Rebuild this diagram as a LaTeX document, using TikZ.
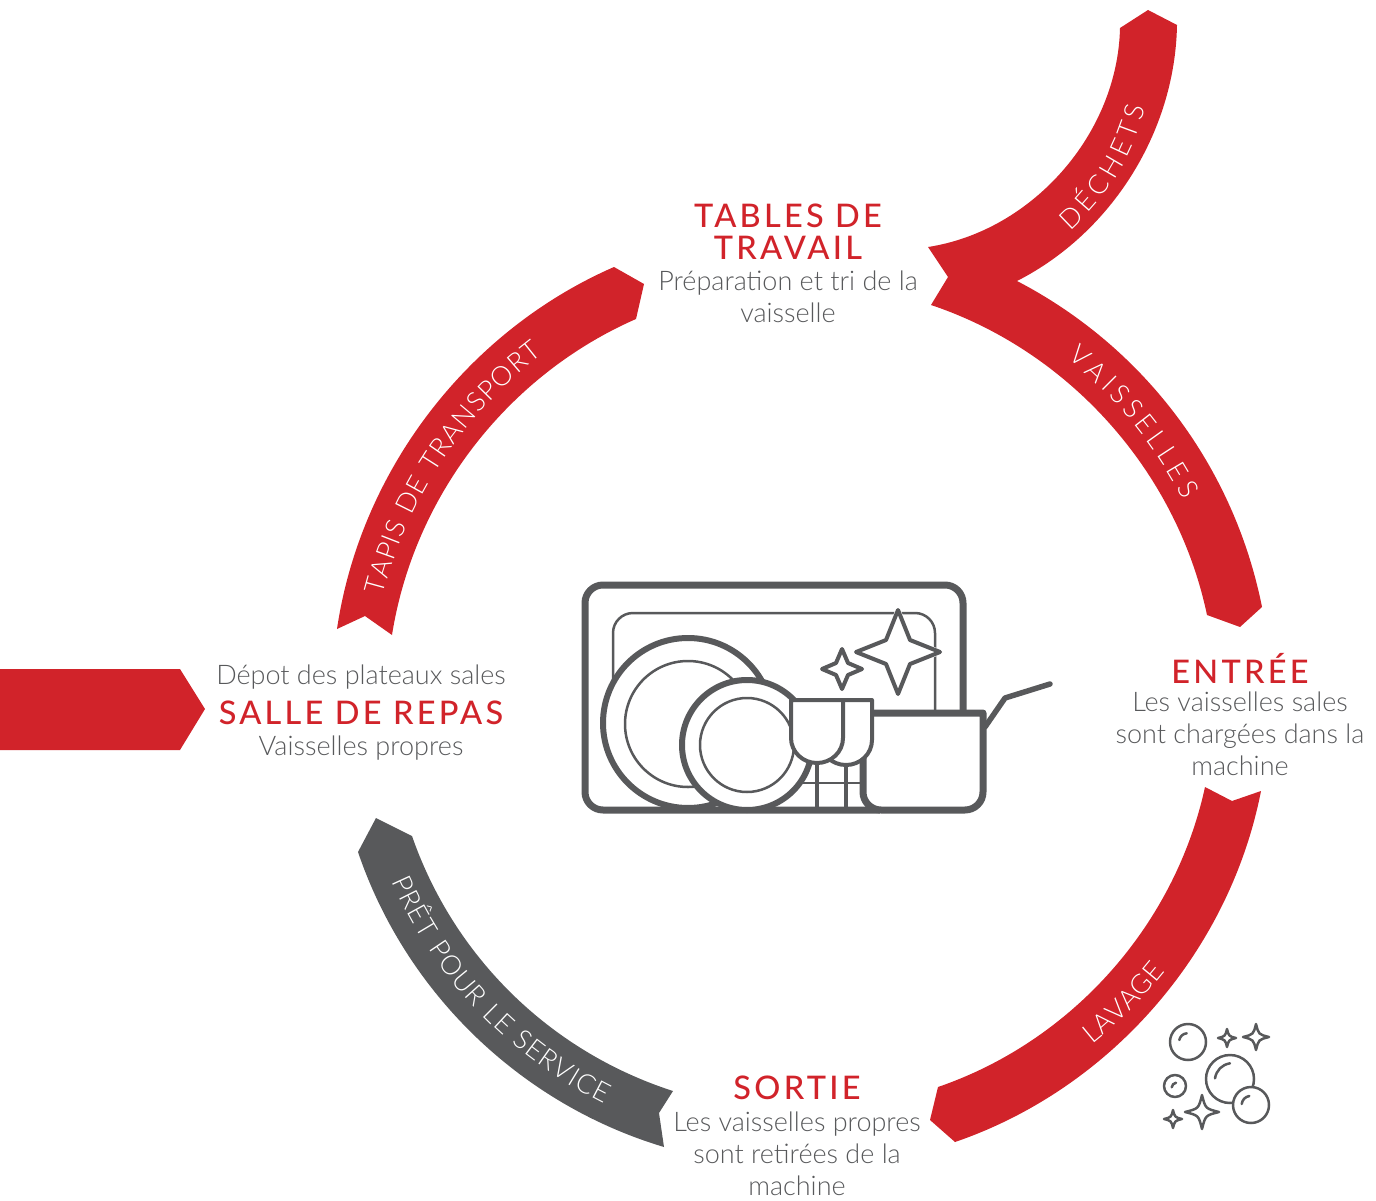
\documentclass[tikz,border=0pt]{standalone}
\usepackage{fontspec}
\usepackage{tikz}
\usetikzlibrary{decorations.text}
\setmainfont{Lato Light}
\newfontfamily\headfont{Lato Medium}[LetterSpace=10]
\newfontfamily\bandfont{Lato Light}[LetterSpace=2]
\definecolor{brandred}{HTML}{D1232A}
\definecolor{brandgray}{HTML}{58595B}
\tikzset{
  ribbon/.style={fill=brandred},
  headtext/.style={align=center,text=brandred,font=\headfont\fontsize{32.5}{32}\selectfont},
  bodytext/.style={align=center,text=brandgray,font=\fontsize{27}{32}\selectfont},
  icon/.style={draw=brandgray,line join=round},
  bandtext/.style={decorate,decoration={text along path,text color=white,text align=fit to path,text={|\bandfont\fontsize{27}{27}\selectfont|#1}}}
}
\newcommand{\sparkle}[4]{\draw[icon,fill=white,preaction={draw=white,line width=5pt},line width=4pt] (#1,#2-#3)--(#1+#4,#2-#4)--(#1+#3,#2)--(#1+#4,#2+#4)--(#1,#2+#3)--(#1-#4,#2+#4)--(#1-#3,#2)--(#1-#4,#2-#4)--cycle;}
\newcommand{\diamondlet}[3]{\draw[icon,line width=2.5pt] (#1,#2-#3) .. controls (#1+.2*#3,#2-.2*#3) .. (#1+#3,#2) .. controls (#1+.2*#3,#2+.2*#3) .. (#1,#2+#3) .. controls (#1-.2*#3,#2+.2*#3) .. (#1-#3,#2) .. controls (#1-.2*#3,#2-.2*#3) .. cycle;}
\newcommand{\bubble}[7]{\draw[icon,fill=white,line width=2.5pt] (#1,#2) circle (#3);
\draw[icon,line width=2.5pt,line cap=round] (#4,#5) to[bend left=35] (#6,#7);}

\begin{document}
\begin{tikzpicture}[x=1pt,y=-1pt]
\useasboundingbox (0,0) rectangle (1376,1201);
% ribbons of the loop
\fill[ribbon] (1017,281) to[bend left=25.6,looseness=.9] (1262,607) -- (1240,627) -- (1207,615) to[bend right=29.8,looseness=.9] (931,305) -- (948,277) -- (928,247) to[bend right=40,looseness=.93] (1120,28) -- (1148,10) -- (1177,25) to[bend left=31,looseness=.9] (1017,281) -- cycle;
\fill[ribbon] (1261,791) to[bend left=30,looseness=.9] (955,1142) -- (930,1120) -- (938,1087) to[bend right=29.4,looseness=.9] (1205,787) -- (1232,801) -- cycle;
\fill[ribbon] (337,629) to[bend left=29,looseness=.9] (614,267) -- (644,284) -- (636,319) to[bend right=28.7,looseness=.9] (392,635) -- (365,616) -- cycle;
\fill[brandgray] (358,852) to[bend right=27.3,looseness=.9] (664,1147) -- (659,1113) -- (673,1091) to[bend left=26.5,looseness=.9] (412,836) -- (376,818) -- cycle;
\fill[ribbon] (0,669) -- (180,669) -- (205,709) -- (180,750) -- (0,750) -- cycle;
% ribbon labels
\path[bandtext={TAPIS DE TRANSPORT}] (383,596) to[bend left=19,looseness=.9] (543,354);
\path[bandtext={VAISSELLES}] (1067,358) to[bend left=11.5,looseness=.9] (1183,500);
\path[bandtext={LAVAGE}] (1092,1044) to[bend right=6.2,looseness=.9] (1165,971);
\path[bandtext={PRÊT POUR LE SERVICE}] (392,881) to[bend right=19.8,looseness=.9] (604,1104);
\path[bandtext={DÉCHETS}] (1070,231) to[bend right=17,looseness=.9] (1145,108);
% stage texts
\node[headtext] (tablesHead) at (788,232) {TABLES DE\\TRAVAIL};
\node[bodytext] (tablesBody) at (788,297) {Préparation et tri de la\\vaisselle};
\node[headtext] (entreeHead) at (1240,668) {ENTRÉE};
\node[bodytext] (entreeBody) at (1240,734) {Les vaisselles sales\\sont chargées dans la\\machine};
\node[headtext] (sortieHead) at (797,1088) {SORTIE};
\node[bodytext] (sortieBody) at (797,1154) {Les vaisselles propres\\sont retirées de la\\machine};
\node[bodytext] (repasTop) at (361,677) {Dépot des plateaux sales};
\node[headtext] (repasHead) at (361,713) {SALLE DE REPAS};
\node[bodytext] (repasBody) at (361,748) {Vaisselles propres};
% dish rack
\draw[icon,line width=7pt,rounded corners=18pt] (963,712) -- (963,585) -- (585,585) -- (585,810) -- (880,810);
\draw[icon,line width=2.5pt,rounded corners=20pt] (613,690) -- (613,613) -- (935,613) -- (935,712);
\sparkle{898}{652}{42}{12}
\sparkle{842}{669}{20}{6}
\draw[icon,line width=2.5pt] (803,783) -- (865,783);
\draw[icon,line width=4pt] (817,760) -- (817,810) (846,760) -- (846,810);
\draw[icon,fill=white,line width=6pt] (688,723) circle (85);
\draw[icon,line width=2.5pt] (688,724) circle (63);
\draw[icon,fill=white,line width=6pt] (747,745) circle (65);
\draw[icon,line width=2.5pt] (747,745) circle (47);
% pan
\draw[icon,line width=5.5pt,line cap=round] (985,727) -- (1005,698) -- (1050,684);
\draw[icon,fill=white,line width=7pt] (983,740) [rounded corners=18pt] -- (983,810) -- (863,810) -- (863,740) [sharp corners] -- (863,713) -- (983,713) -- cycle;
% glasses
\draw[icon,fill=white,line width=4pt] (820,700) -- (872,700) -- (872,740) arc[start angle=0,end angle=180,x radius=26,y radius=25] -- cycle;
\draw[icon,fill=white,line width=4pt] (791,700) -- (843,700) -- (843,738) arc[start angle=0,end angle=180,x radius=26,y radius=25] -- cycle;
% bubbles
\bubble{1188}{1042}{18}{1179.3}{1040}{1186.7}{1033.3}
\bubble{1175}{1086}{11}{1171.7}{1087.3}{1176}{1082.7}
\bubble{1230}{1079}{24}{1215}{1078.3}{1230}{1063.3}
\bubble{1251}{1105}{18}{1241.7}{1104}{1249.3}{1096}
\diamondlet{1227}{1038}{9}
\diamondlet{1256}{1037}{13}
\diamondlet{1202}{1112}{17}
\diamondlet{1173}{1119}{9}
\end{tikzpicture}
\end{document}
